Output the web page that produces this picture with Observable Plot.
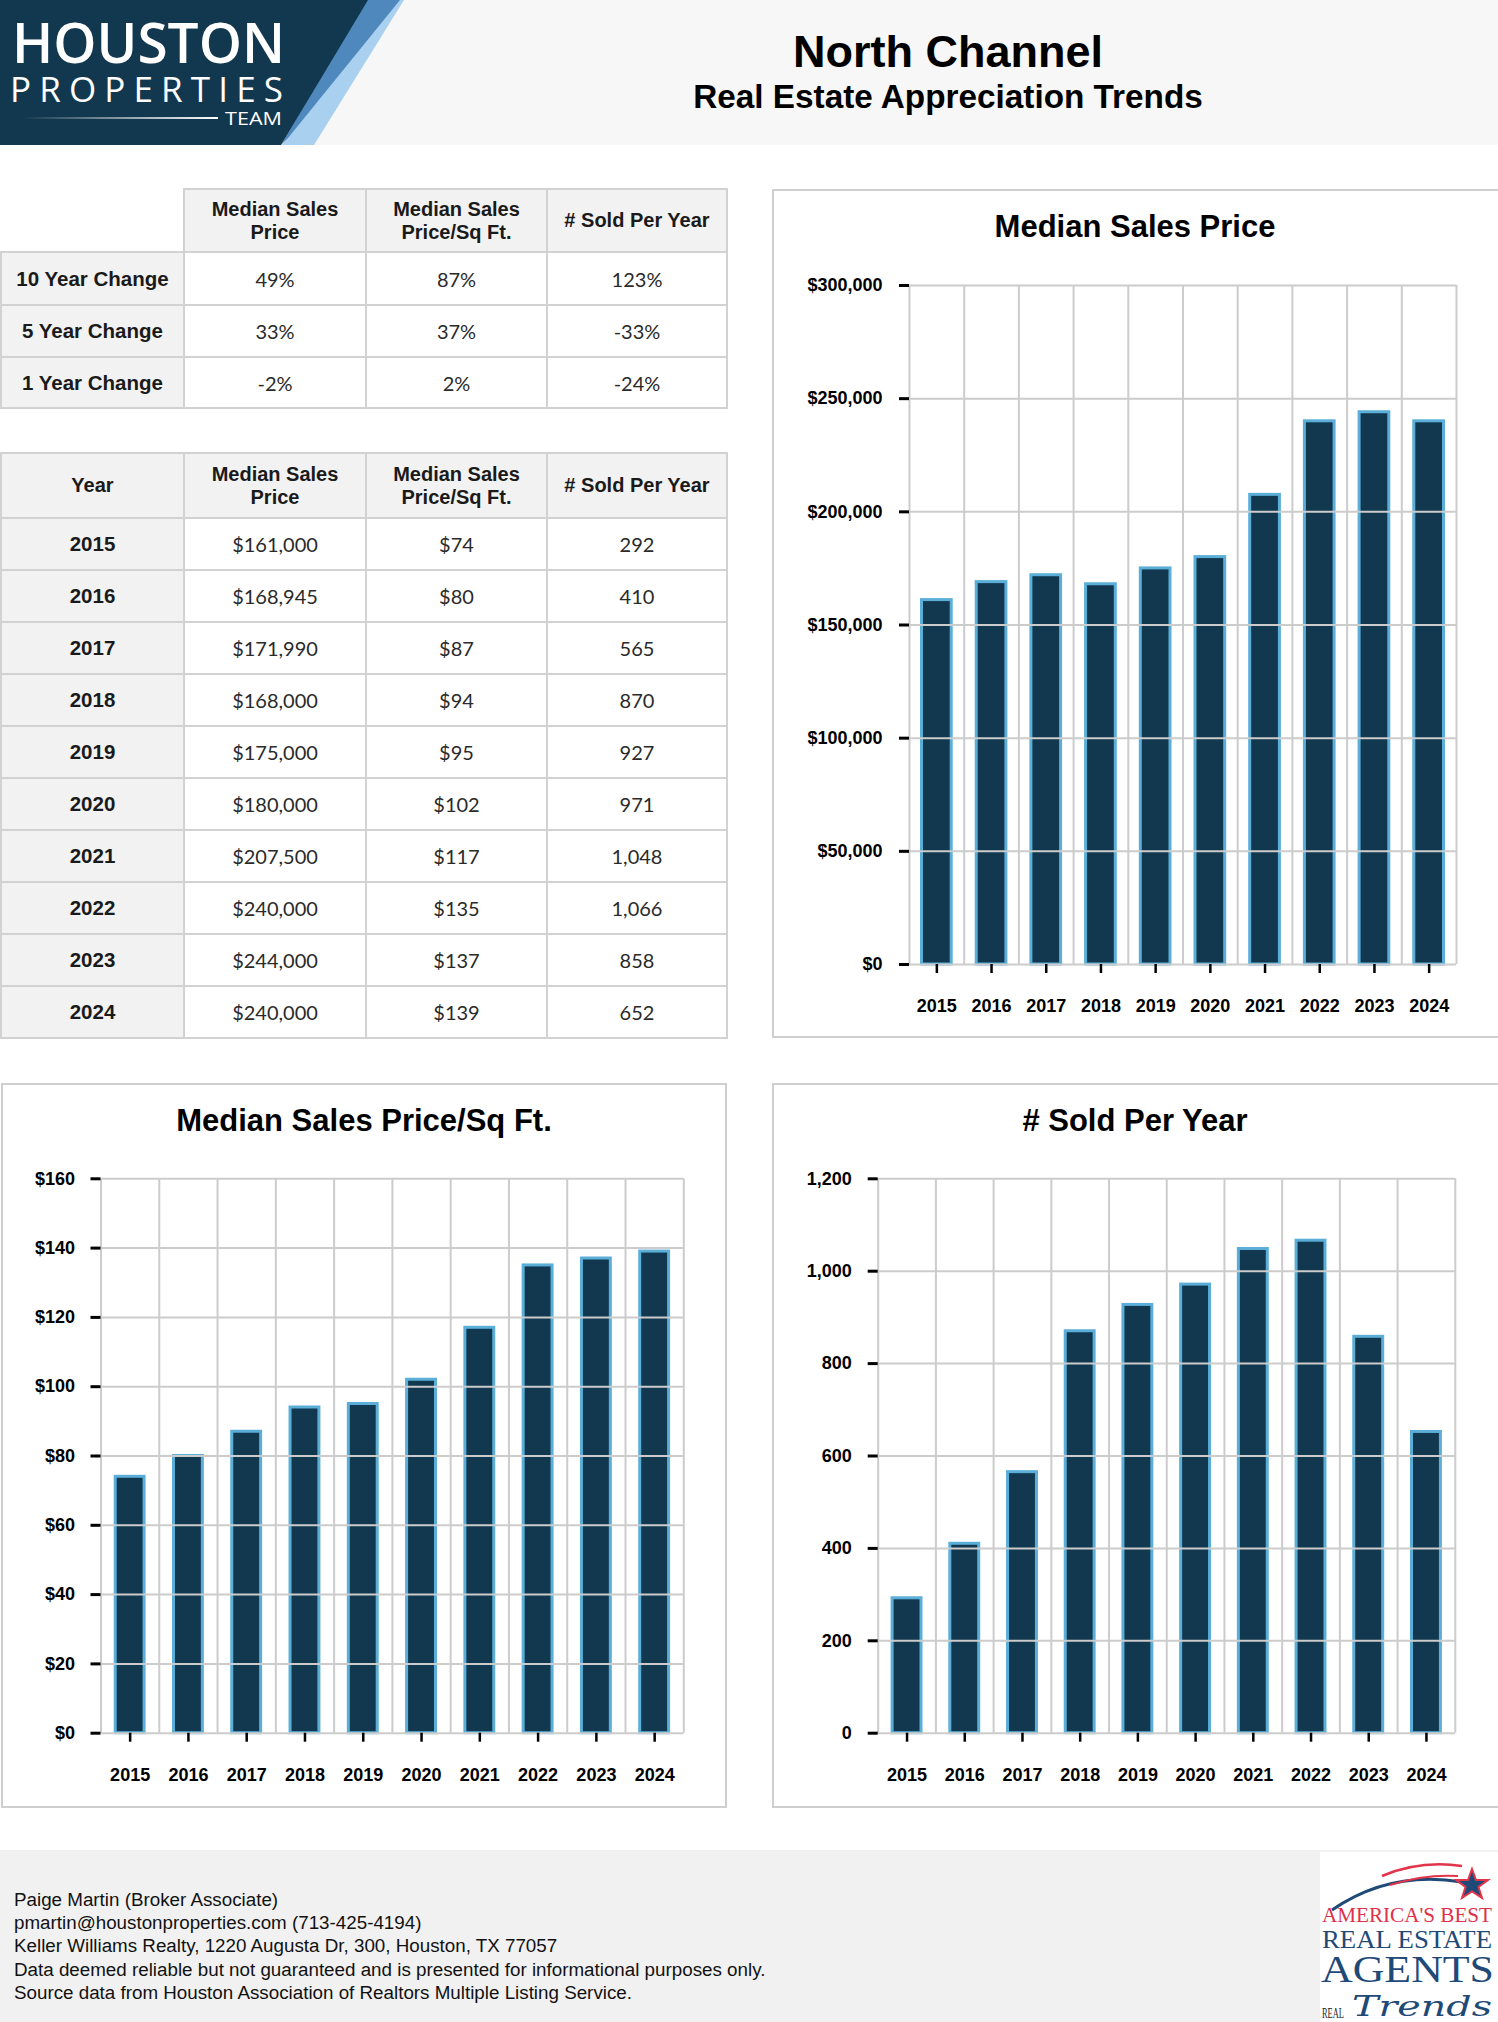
<!DOCTYPE html>
<html>
<head>
<meta charset="utf-8">
<script src="https://cdn.jsdelivr.net/npm/d3@7"></script>
<script src="https://cdn.jsdelivr.net/npm/@observablehq/plot@0.6"></script>
<style>
html,body{margin:0;padding:0;background:#fff;}
#page{position:relative;width:1498px;height:2022px;overflow:hidden;font-family:"Liberation Sans",Arial,Helvetica,sans-serif;color:#111;}
.abs{position:absolute;box-sizing:border-box;}
.cell{position:absolute;box-sizing:border-box;border:2px solid #d2d2d2;display:flex;align-items:center;justify-content:center;text-align:center;font-size:20px;}
.hdr{background:#f2f2f2;font-weight:bold;color:#1a1a1a;line-height:23px;}
.lab{background:#f2f2f2;font-weight:bold;color:#1a1a1a;font-size:20.5px;}
.val{background:#fff;font-family:Lato,"Liberation Sans",sans-serif;color:#2a2a2a;}
.ptitle{position:absolute;text-align:center;font-weight:bold;font-size:31px;line-height:31px;color:#000;white-space:nowrap;}
.box{position:absolute;box-sizing:border-box;border:2px solid #cfcfcf;background:#fff;}
</style>
</head>
<body>
<div id="page"></div>
<script>
// ---------------- data ----------------
const years = [2015, 2016, 2017, 2018, 2019, 2020, 2021, 2022, 2023, 2024];
const medianPrice = [161000, 168945, 171990, 168000, 175000, 180000, 207500, 240000, 244000, 240000];
const pricePerSqFt = [74, 80, 87, 94, 95, 102, 117, 135, 137, 139];
const soldPerYear = [292, 410, 565, 870, 927, 971, 1048, 1066, 858, 652];

const changeLabels = ["10 Year Change", "5 Year Change", "1 Year Change"];
const changePrice = [49, 33, -2];
const changePsf = [87, 37, 2];
const changeSold = [123, -33, -24];

const columnHeaders = [["Median Sales", "Price"], ["Median Sales", "Price/Sq Ft."], ["# Sold Per Year"]];
const yearHeader = "Year";

const priceTicks = [0, 50000, 100000, 150000, 200000, 250000, 300000];
const psfTicks = [0, 20, 40, 60, 80, 100, 120, 140, 160];
const soldTicks = [0, 200, 400, 600, 800, 1000, 1200];

const pageTitle = "North Channel";
const pageSubtitle = "Real Estate Appreciation Trends";
const chartTitles = ["Median Sales Price", "Median Sales Price/Sq Ft.", "# Sold Per Year"];
const footerLines = [
  "Paige Martin (Broker Associate)",
  "pmartin@houstonproperties.com (713-425-4194)",
  "Keller Williams Realty, 1220 Augusta Dr, 300, Houston, TX 77057",
  "Data deemed reliable but not guaranteed and is presented for informational purposes only.",
  "Source data from Houston Association of Realtors Multiple Listing Service."
];

// ---------------- helpers ----------------
const page = document.getElementById("page");
function el(tag, cls, styleObj, html) {
  const e = document.createElement(tag);
  if (cls) e.className = cls;
  Object.assign(e.style, styleObj || {});
  if (html !== undefined) e.innerHTML = html;
  page.appendChild(e);
  return e;
}
const comma = d3.format(",");
const fmtMoney = d => "$" + comma(d);
const fmtPct = d => d + "%";

// ---------------- header ----------------
el("div", "abs", {left: "0px", top: "0px", width: "1498px", height: "145px", background: "#f7f7f7"});
el("div", "abs", {left: "0px", top: "0px", width: "420px", height: "145px"}, `
<svg width="420" height="145" xmlns="http://www.w3.org/2000/svg">
  <defs><linearGradient id="lg" x1="0" x2="1"><stop offset="0" stop-color="#fff" stop-opacity="0"/><stop offset="1" stop-color="#fff" stop-opacity="1"/></linearGradient></defs>
  <polygon points="392,0 404,0 314,145 282,145" fill="#a9d0ef"/>
  <polygon points="366,0 400,0 288,138 281,145" fill="#4f88bc"/>
  <polygon points="0,0 368,0 281,145 0,145" fill="#12384f"/>
  <text x="12" y="63" fill="#fff" font-family="'Open Sans','Liberation Sans',sans-serif" font-weight="600" font-size="56" textLength="273" lengthAdjust="spacingAndGlyphs">HOUSTON</text>
  <text x="10" y="102" fill="#fff" font-family="'Open Sans','Liberation Sans',sans-serif" font-weight="400" font-size="35" textLength="273" lengthAdjust="spacing">PROPERTIES</text>
  <rect x="22" y="117" width="196" height="2" fill="url(#lg)"/>
  <text x="225" y="125" fill="#fff" font-family="'Open Sans','Liberation Sans',sans-serif" font-weight="400" font-size="19" textLength="57" lengthAdjust="spacingAndGlyphs">TEAM</text>
</svg>`);
el("div", "abs", {left: "548px", top: "28.6px", width: "800px", textAlign: "center", fontWeight: "bold", fontSize: "45px", lineHeight: "45px", color: "#000"}, pageTitle);
el("div", "abs", {left: "548px", top: "80.2px", width: "800px", textAlign: "center", fontWeight: "bold", fontSize: "33.3px", lineHeight: "33.3px", color: "#000"}, pageSubtitle);

// ---------------- tables ----------------
function cell(x0, x1, y0, y1, cls, html, extra) {
  const s = {left: (x0 - 1) + "px", top: (y0 - 1) + "px", width: (x1 - x0 + 2) + "px", height: (y1 - y0 + 2) + "px"};
  Object.assign(s, extra || {});
  return el("div", "cell " + cls, s, html);
}
const colX = [1, 184, 366, 547, 727];

// change table
const t1Rows = [189, 252, 305, 357, 408];
columnHeaders.forEach((h, c) => cell(colX[c + 1], colX[c + 2], t1Rows[0], t1Rows[1], "hdr", h.join("<br>")));
changeLabels.forEach((lab, r) => {
  cell(colX[0], colX[1], t1Rows[r + 1], t1Rows[r + 2], "lab", lab);
  [changePrice, changePsf, changeSold].forEach((arr, c) =>
    cell(colX[c + 1], colX[c + 2], t1Rows[r + 1], t1Rows[r + 2], "val", fmtPct(arr[r])));
});

// yearly table
const t2Rows = [453, 518];
years.forEach((y, i) => t2Rows.push(518 + 52 * (i + 1)));
cell(colX[0], colX[1], t2Rows[0], t2Rows[1], "hdr", yearHeader);
columnHeaders.forEach((h, c) => cell(colX[c + 1], colX[c + 2], t2Rows[0], t2Rows[1], "hdr", h.join("<br>")));
years.forEach((y, r) => {
  cell(colX[0], colX[1], t2Rows[r + 1], t2Rows[r + 2], "lab", String(y));
  cell(colX[1], colX[2], t2Rows[r + 1], t2Rows[r + 2], "val", fmtMoney(medianPrice[r]));
  cell(colX[2], colX[3], t2Rows[r + 1], t2Rows[r + 2], "val", "$" + pricePerSqFt[r]);
  cell(colX[3], colX[4], t2Rows[r + 1], t2Rows[r + 2], "val", comma(soldPerYear[r]));
});

// ---------------- charts ----------------
function barChart({values, ticks, fmt, width, height, mL, mR, mT, mB, inset, yPad}) {
  const data = years.map((y, i) => ({year: y, value: values[i]}));
  const bounds = [years[0] - 0.5, ...years.map(y => y + 0.5)];
  return Plot.plot({
    width, height,
    marginLeft: mL, marginRight: mR, marginTop: mT, marginBottom: mB,
    style: {fontFamily: "'Liberation Sans', Arial, sans-serif", fontSize: "18px", color: "#000", background: "transparent", overflow: "visible"},
    x: {type: "linear", domain: [years[0] - 0.5, years[years.length - 1] + 0.5]},
    y: {domain: [ticks[0], ticks[ticks.length - 1]]},
    marks: [
      Plot.gridX(bounds, {stroke: "#cccccc", strokeOpacity: 1, strokeWidth: 2}),
      Plot.rectY(data, {x1: d => d.year - 0.5, x2: d => d.year + 0.5, y1: d => 0, y2: "value",
        insetLeft: inset, insetRight: inset, fill: "#12384f", stroke: "#5aaed8", strokeWidth: 3}),
      Plot.gridY(ticks, {stroke: "#cccccc", strokeOpacity: 1, strokeWidth: 2}),
      Plot.axisY(ticks, {tickSize: 10, tickPadding: yPad, strokeWidth: 3, tickFormat: fmt,
        fontWeight: "bold", fontSize: 18, label: null}),
      Plot.axisX(years, {tickSize: 9, tickPadding: 26, strokeWidth: 2.5, tickFormat: d => String(d),
        fontWeight: "bold", fontSize: 18, label: null})
    ]
  });
}
function panel(left, top, w, h, titleText, titleBaseline, chartOpts) {
  el("div", "box", {left: left + "px", top: top + "px", width: (w + 6) + "px", height: h + "px"});
  if (left < 10) page.lastChild.style.width = w + "px";
  el("div", "ptitle", {left: left + "px", top: (titleBaseline - 26.2) + "px", width: w + "px"}, titleText);
  const holder = el("div", "abs", {left: left + "px", top: top + "px"});
  holder.appendChild(barChart(Object.assign({width: w, height: h}, chartOpts)));
}

panel(772, 189, 726, 849, chartTitles[0], 237.3,
  {values: medianPrice, ticks: priceTicks, fmt: fmtMoney, mL: 137, mR: 42, mT: 96, mB: 74, inset: 12.5, yPad: 17});
panel(1, 1083, 726, 725, chartTitles[1], 1130.7,
  {values: pricePerSqFt, ticks: psfTicks, fmt: d => "$" + d, mL: 99.5, mR: 43.7, mT: 95.3, mB: 75.3, inset: 14.7, yPad: 16});
panel(772, 1083, 726, 725, chartTitles[2], 1130.7,
  {values: soldPerYear, ticks: soldTicks, fmt: comma, mL: 105.7, mR: 43.2, mT: 95.3, mB: 75.3, inset: 14.4, yPad: 16.5});

// ---------------- footer ----------------
el("div", "abs", {left: "0px", top: "1850px", width: "1498px", height: "172px", background: "#f1f1f1"});
el("div", "abs", {left: "14px", top: "1888px", fontSize: "18.8px", lineHeight: "23.2px", color: "#111", whiteSpace: "nowrap"},
  footerLines.join("<br>"));
el("div", "abs", {left: "1320px", top: "1852px", width: "178px", height: "170px"}, `
<svg width="178" height="170" xmlns="http://www.w3.org/2000/svg">
  <rect width="178" height="170" fill="#fff"/>
  <path d="M12,58 Q70,18 142,30" stroke="#1f4a78" stroke-width="3" fill="none"/>
  <path d="M62,24 Q100,8 142,14" stroke="#e2354b" stroke-width="2.5" fill="none"/>
  <path d="M70,33 Q105,22 138,24" stroke="#e2354b" stroke-width="2" fill="none"/>
  <polygon points="152,17 156,28 168,28 158.5,35 162,46 152,39.5 142,46 145.5,35 136,28 148,28" fill="#1f4a78" stroke="#e2354b" stroke-width="2"/>
  <text x="2" y="70" fill="#e0314a" font-family="'Liberation Serif','DejaVu Serif',serif" font-size="21" textLength="170" lengthAdjust="spacingAndGlyphs">AMERICA'S BEST</text>
  <text x="2" y="96" fill="#1f4a78" font-family="'Liberation Serif','DejaVu Serif',serif" font-size="25" textLength="170" lengthAdjust="spacingAndGlyphs">REAL ESTATE</text>
  <text x="1" y="130" fill="#1f4a78" font-family="'Liberation Serif','DejaVu Serif',serif" font-size="37" textLength="173" lengthAdjust="spacingAndGlyphs">AGENTS</text>
  <text x="2" y="166" fill="#222" font-family="'Liberation Serif','DejaVu Serif',serif" font-size="15" textLength="22" lengthAdjust="spacingAndGlyphs">REAL</text>
  <text x="32" y="164" fill="#1f4a78" font-family="'DejaVu Serif',serif" font-style="italic" font-size="28" textLength="140" lengthAdjust="spacingAndGlyphs">Trends</text>
</svg>`);
</script>
</body>
</html>
